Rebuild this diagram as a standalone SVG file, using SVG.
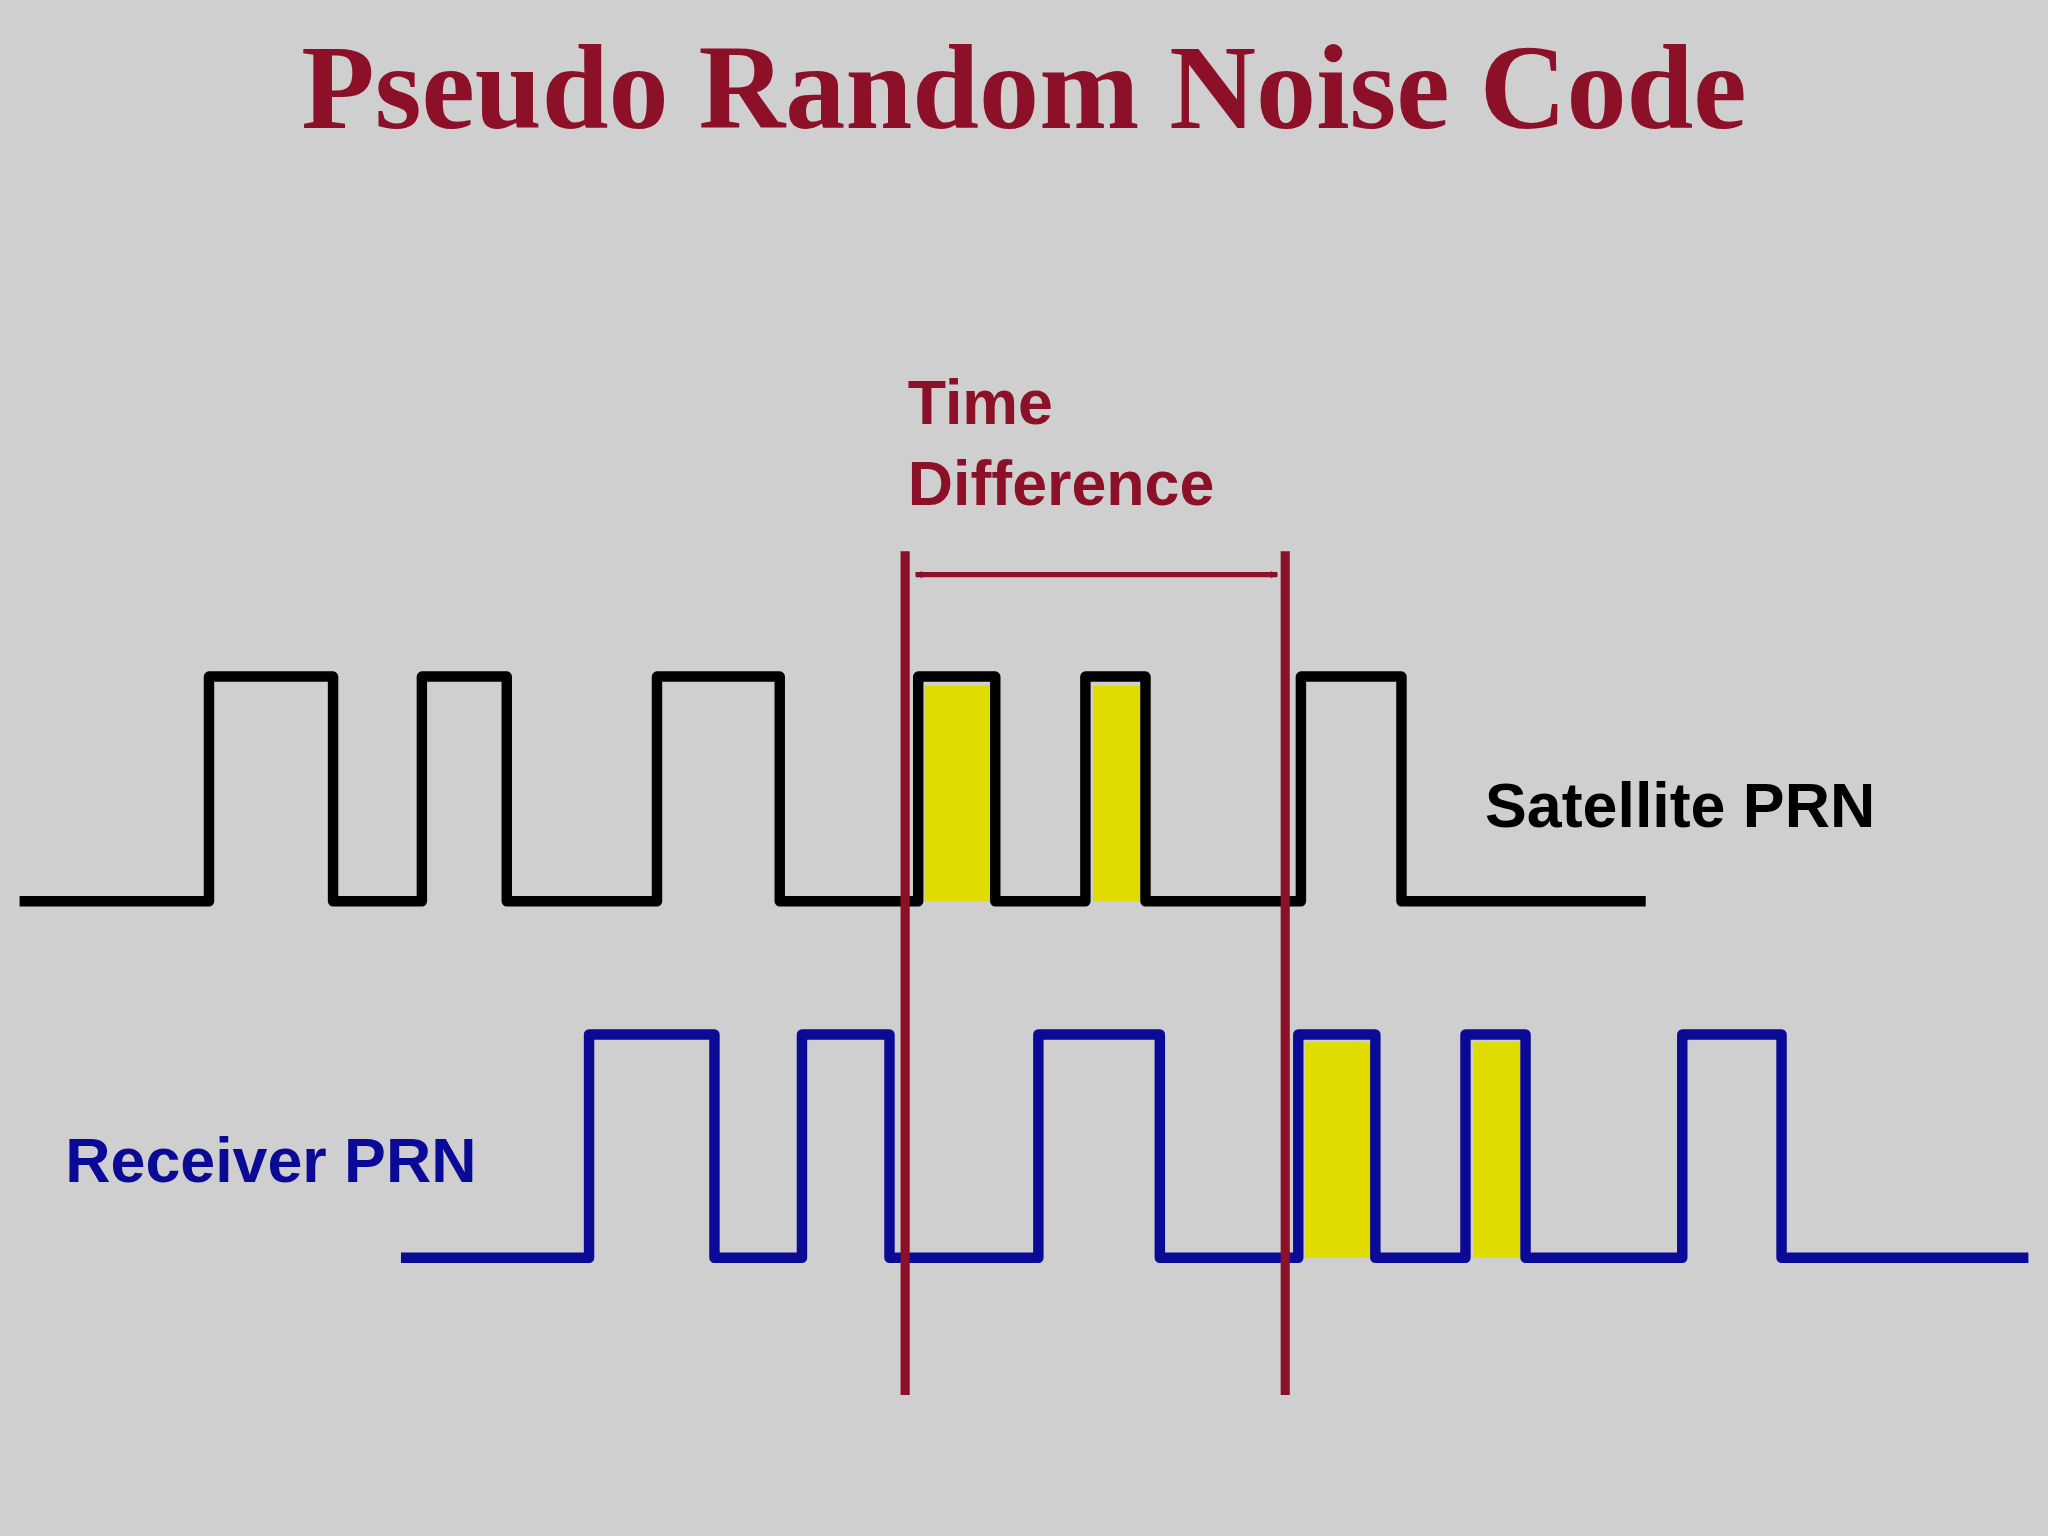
<svg xmlns="http://www.w3.org/2000/svg" width="2048" height="1536" viewBox="0 0 2048 1536">
<style>
.w{fill:none;stroke-width:8;stroke-linejoin:round}
.y{fill:#E0DC00}
.r{stroke:#8B1028;stroke-width:7}
.t{font-family:"Liberation Sans",Arial,sans-serif;font-weight:bold;font-size:48px}
</style>
<defs>
<marker id="a" viewBox="0 0 10 10" refX="9" refY="5" markerWidth="6" markerHeight="6" orient="auto-start-reverse" markerUnits="userSpaceOnUse"><path d="M0,0 L10,5 L0,10 L3,5 z" fill="#8B1028"/></marker>
</defs>
<rect width="2048" height="1536" fill="#CFCFCF"/>
<g transform="scale(1.30612)">
<text x="784" y="98" text-anchor="middle" font-family="Liberation Serif,Times New Roman,serif" font-weight="bold" font-size="92" fill="#8B1028">Pseudo Random Noise Code</text>
<g id="highlights">
<rect class="y" x="708" y="525" width="50" height="165"/>
<rect class="y" x="837" y="525" width="36" height="165"/>
<rect class="y" x="999" y="798" width="51" height="165"/>
<rect class="y" x="1128" y="798" width="36" height="165"/>
</g>
<g id="satellite">
<path class="w" stroke="#000" d="M15,690 H160 V518 H255 V690 H323 V518 H388 V690 H503 V518 H597 V690 H703 V518 H762 V690 H831 V518 H877 V690 H996 V518 H1073 V690 H1260"/>
<text class="t" x="1137" y="633" fill="#000">Satellite PRN</text>
</g>
<g id="receiver">
<path class="w" stroke="#0A0A96" d="M307,963 H451 V792 H547 V963 H614 V792 H681 V963 H795 V792 H888 V963 H994 V792 H1053 V963 H1122 V792 H1168 V963 H1288 V792 H1364 V963 H1553"/>
<text class="t" x="50" y="905" fill="#0A0A96">Receiver PRN</text>
</g>
<g id="connectors">
<line class="r" x1="693" y1="422" x2="693" y2="1068"/>
<line class="r" x1="984" y1="422" x2="984" y2="1068"/>
<line stroke="#8B1028" stroke-width="4" x1="701" y1="440" x2="978" y2="440" marker-start="url(#a)" marker-end="url(#a)"/>
</g>
<g id="label">
<text class="t" x="695" y="325" fill="#8B1028">Time</text>
<text class="t" x="695" y="387" fill="#8B1028">Difference</text>
</g>
</g>
</svg>
